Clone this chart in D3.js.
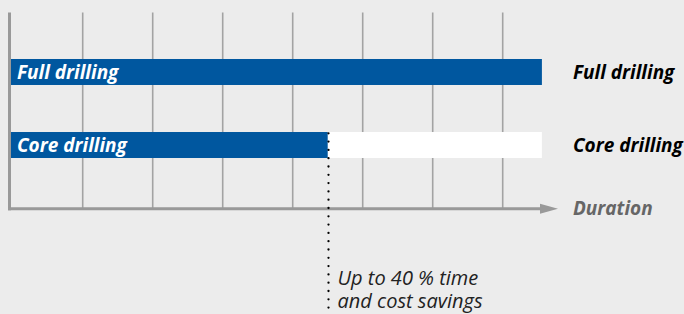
<!DOCTYPE html>
<html>
<head>
<meta charset="utf-8">
<script src="https://cdn.jsdelivr.net/npm/d3@7"></script>
<style>
  html, body { margin: 0; padding: 0; background: #ececec; }
  svg { display: block; }
  text { font-family: "Open Sans", sans-serif; font-style: italic; }
</style>
</head>
<body>
<div id="chart"></div>
<script>
// durations in grid units
const methods = ["Full drilling", "Core drilling"];
const durations = [7.56, 4.5];
const gridTicks = [1, 2, 3, 4, 5, 6, 7];
const axisLabel = "Duration";
const noteLines = ["Up to 40 % time", "and cost savings"];

const width = 684;
const height = 314;

const svg = d3
  .select("#chart")
  .append("svg")
  .attr("width", width)
  .attr("height", height);

const x = d3.scaleLinear().domain([0, 1]).range([12.7, 82.7]);
const y = d3.scaleBand().domain(methods).range([0, 217]).paddingInner(0.644).paddingOuter(0.808);

const axisY = 208.8;
const left = 9.5;
const barStart = 11;
const fullEnd = x(d3.max(durations));

// grid lines
svg
  .append("g")
  .attr("stroke", "#a3a3a3")
  .attr("stroke-width", 1.6)
  .selectAll("line")
  .data(gridTicks)
  .join("line")
  .attr("x1", (d) => x(d))
  .attr("x2", (d) => x(d))
  .attr("y1", 12.5)
  .attr("y2", axisY);

// white background track for the shorter bar
svg
  .append("g")
  .selectAll("rect")
  .data(methods.slice(1))
  .join("rect")
  .attr("x", barStart)
  .attr("y", (d) => y(d))
  .attr("width", fullEnd - barStart)
  .attr("height", y.bandwidth())
  .attr("fill", "#ffffff");

// bars
svg
  .append("g")
  .selectAll("rect")
  .data(methods)
  .join("rect")
  .attr("x", barStart)
  .attr("y", (d) => y(d))
  .attr("width", (d, i) => x(durations[i]) - barStart)
  .attr("height", y.bandwidth())
  .attr("fill", "#00579f");

// labels inside bars
svg
  .append("g")
  .selectAll("text")
  .data(methods)
  .join("text")
  .attr("x", 17)
  .attr("y", (d) => y(d) + y.bandwidth() / 2 + 7)
  .attr("fill", "#fff")
  .attr("font-weight", 700)
  .attr("font-size", 19)
  .text((d) => d);

// labels on the right
svg
  .append("g")
  .selectAll("text")
  .data(methods)
  .join("text")
  .attr("x", 573)
  .attr("y", (d) => y(d) + y.bandwidth() / 2 + 7)
  .attr("fill", "#000")
  .attr("font-weight", 700)
  .attr("font-size", 19)
  .text((d) => d);

// axes
svg
  .append("line")
  .attr("x1", left)
  .attr("x2", left)
  .attr("y1", 12.5)
  .attr("y2", axisY + 1.5)
  .attr("stroke", "#999")
  .attr("stroke-width", 3);

svg
  .append("line")
  .attr("x1", left - 1.5)
  .attr("x2", 546)
  .attr("y1", axisY)
  .attr("y2", axisY)
  .attr("stroke", "#999")
  .attr("stroke-width", 3);

svg
  .append("path")
  .attr("d", `M540,${axisY - 5}L558,${axisY}L540,${axisY + 5}Z`)
  .attr("fill", "#999");

svg
  .append("text")
  .attr("x", 573)
  .attr("y", axisY + 6.5)
  .attr("fill", "#666")
  .attr("font-weight", 700)
  .attr("font-size", 19)
  .text(axisLabel);

// savings marker
const cut = x(durations[1]) + 0.8;
svg
  .append("line")
  .attr("x1", cut)
  .attr("x2", cut)
  .attr("y1", y(methods[1]) + 1.3)
  .attr("y2", 313)
  .attr("stroke", "#000")
  .attr("stroke-width", 2.3)
  .attr("stroke-dasharray", "0 8.3")
  .attr("stroke-linecap", "round");

svg
  .append("g")
  .selectAll("text")
  .data(noteLines)
  .join("text")
  .attr("x", cut + 9)
  .attr("y", (d, i) => 285 + i * 23)
  .attr("fill", "#222")
  .attr("font-size", 20)
  .text((d) => d);
</script>
</body>
</html>
